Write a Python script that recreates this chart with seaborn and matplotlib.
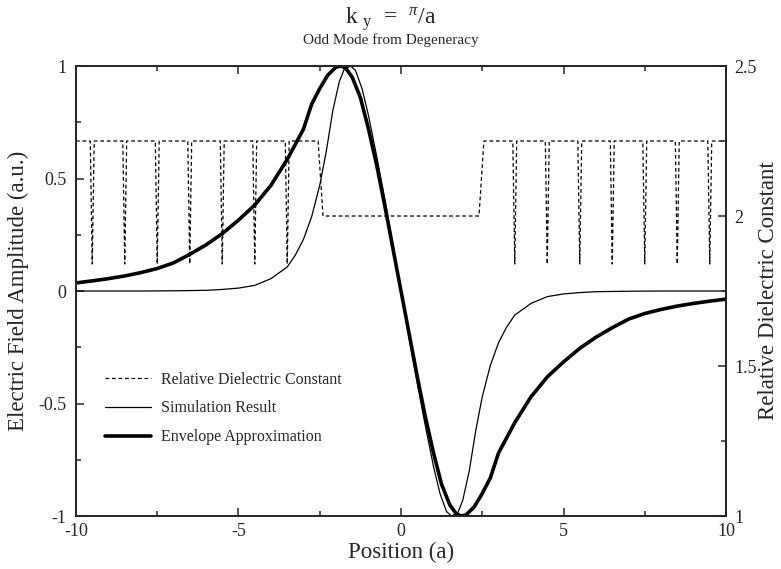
import matplotlib
matplotlib.use("Agg")
import matplotlib.pyplot as plt
import seaborn as sns
from matplotlib.lines import Line2D
from matplotlib.ticker import MultipleLocator

# ---- data ----
eps_x = [-10, -9.56, -9.5, -9.44, -8.56, -8.5, -8.44, -7.56, -7.5, -7.44,
         -6.56, -6.5, -6.44, -5.56, -5.5, -5.44, -4.56, -4.5, -4.44,
         -3.56, -3.5, -3.44, -2.55, -2.4, 2.4, 2.55,
         3.44, 3.5, 3.56, 4.44, 4.5, 4.56, 5.44, 5.5, 5.56, 6.44, 6.5, 6.56,
         7.44, 7.5, 7.56, 8.44, 8.5, 8.56, 9.44, 9.5, 9.56, 10]
eps_v = [2.25, 2.25, 1.84, 2.25, 2.25, 1.84, 2.25, 2.25, 1.84, 2.25,
         2.25, 1.84, 2.25, 2.25, 1.84, 2.25, 2.25, 1.84, 2.25,
         2.25, 1.84, 2.25, 2.25, 2.0, 2.0, 2.25,
         2.25, 1.84, 2.25, 2.25, 1.84, 2.25, 2.25, 1.84, 2.25, 2.25, 1.84, 2.25,
         2.25, 1.84, 2.25, 2.25, 1.84, 2.25, 2.25, 1.84, 2.25, 2.25]

sim_x = [-10, -9, -8, -7, -6, -5.5, -5, -4.5, -4, -3.5, -3.25, -3.0, -2.75, -2.5,
         -2.3, -2.1, -1.9, -1.75, -1.55, -1.4, -1.2, -1.0, -0.75, -0.5, -0.25, 0,
         0.25, 0.5, 0.75, 1.0, 1.2, 1.4, 1.55, 1.75, 1.9, 2.1, 2.3, 2.5, 2.75,
         3.0, 3.25, 3.5, 4, 4.5, 5, 5.5, 6, 7, 8, 9, 10]
sim_y = [0, 0, 0, 0.001, 0.003, 0.007, 0.013, 0.025, 0.055, 0.107, 0.16, 0.23, 0.33, 0.47,
         0.62, 0.80, 0.93, 0.985, 1.0, 0.98, 0.90, 0.78, 0.60, 0.41, 0.21, 0,
         -0.21, -0.41, -0.60, -0.78, -0.90, -0.98, -1.0, -0.985, -0.93, -0.80, -0.62, -0.47, -0.33,
         -0.23, -0.16, -0.107, -0.055, -0.025, -0.013, -0.007, -0.003, -0.001, 0, 0, 0]

env_x = [-10, -9.5, -9, -8.5, -8, -7.5, -7, -6.5, -6, -5.5, -5, -4.5, -4, -3.5, -3,
         -2.75, -2.5, -2.25, -2.0, -1.85, -1.7, -1.5, -1.25, -1.0, -0.75, -0.5, -0.25, 0,
         0.25, 0.5, 0.75, 1.0, 1.25, 1.5, 1.7, 1.85, 2.0, 2.25, 2.5, 2.75,
         3, 3.5, 4, 4.5, 5, 5.5, 6, 6.5, 7, 7.5, 8, 8.5, 9, 9.5, 10]
env_y = [0.036, 0.045, 0.055, 0.067, 0.082, 0.10, 0.125, 0.163, 0.205, 0.255, 0.315, 0.382, 0.47, 0.585, 0.72,
         0.83, 0.90, 0.96, 0.995, 1.0, 0.99, 0.95, 0.86, 0.72, 0.56, 0.38, 0.19, 0,
         -0.19, -0.38, -0.56, -0.72, -0.86, -0.95, -0.99, -1.0, -0.995, -0.96, -0.90, -0.83,
         -0.72, -0.585, -0.47, -0.382, -0.315, -0.255, -0.205, -0.163, -0.125, -0.10, -0.082, -0.067, -0.055, -0.045, -0.036]

legend_labels = ["Relative Dielectric Constant", "Simulation Result", "Envelope Approximation"]

# ---- style ----
sns.set_style("ticks")
plt.rcParams["font.family"] = ["Liberation Serif", "DejaVu Serif"]
plt.rcParams["mathtext.fontset"] = "custom"
plt.rcParams["mathtext.rm"] = "Liberation Serif"
plt.rcParams["mathtext.it"] = "Liberation Serif:italic"

fig = plt.figure(figsize=(7.81, 5.69), dpi=100)
ax = fig.add_axes([0.0973, 0.0931, 0.8323, 0.7909])
ax2 = ax.twinx()

dash = (0, (3.0, 2.2))
sns.lineplot(x=eps_x, y=eps_v, ax=ax2, color="black", lw=0.9, sort=False,
             estimator=None, linestyle=dash)
sns.lineplot(x=sim_x, y=sim_y, ax=ax, color="black", lw=0.9, sort=False, estimator=None)
sns.lineplot(x=env_x, y=env_y, ax=ax, color="black", lw=2.6, sort=False, estimator=None)

ax.set_xlim(-10, 10)
ax.set_ylim(-1, 1)
ax2.set_ylim(1, 2.5)

ax.xaxis.set_minor_locator(MultipleLocator(2.5))
ax.yaxis.set_minor_locator(MultipleLocator(0.25))
ax2.yaxis.set_minor_locator(MultipleLocator(0.25))

ax.set_xticks([-10, -5, 0, 5, 10])
ax.set_xticklabels(["-10", "-5", "0", "5", "10"])
ax.set_yticks([-1, -0.5, 0, 0.5, 1])
ax.set_yticklabels(["-1", "-0.5", "0", "0.5", "1"])
ax2.set_yticks([1, 1.5, 2, 2.5])
ax2.set_yticklabels(["1", "1.5", "2", "2.5"])

for a in (ax, ax2):
    for s in a.spines.values():
        s.set_linewidth(1.3)
        s.set_visible(True)
ax.tick_params(axis="both", which="major", direction="in", length=6, width=1.1,
               labelsize=13, top=True, pad=5)
ax.tick_params(axis="y", which="major", pad=7)
ax.tick_params(axis="both", which="minor", direction="in", length=3.5, width=1.1, top=True)
ax.tick_params(axis="y", which="both", right=False)
ax2.tick_params(axis="y", which="major", direction="in", length=6, width=1.1, labelsize=13, pad=6)
ax2.tick_params(axis="y", which="minor", direction="in", length=3.5, width=1.1)

ax.set_xlabel("Position (a)", fontsize=16.5)
ax.xaxis.set_label_coords(0.5, -0.08)
ax.xaxis.label.set_va("center")
ax.set_ylabel("Electric Field Amplitude (a.u.)", fontsize=16.5)
ax.yaxis.set_label_coords(-0.089, 0.5)
ax.yaxis.label.set_va("center")
ax2.set_ylabel("Relative Dielectric Constant", fontsize=16.5)
ax2.yaxis.set_label_coords(1.0646, 0.5)
ax2.yaxis.label.set_va("center")

fig.text(0.5, 0.966, r"k $_{\mathrm{y}}$  =  $^{\pi}$/a", ha="center", va="center", fontsize=17)
fig.text(0.5, 0.929, "Odd Mode from Degeneracy", ha="center", va="center", fontsize=11)

handles = [Line2D([], [], color="black", lw=0.9, linestyle=dash),
           Line2D([], [], color="black", lw=0.9),
           Line2D([], [], color="black", lw=2.6)]
ax.legend(handles, legend_labels, loc="upper left", bbox_to_anchor=(0.035, 0.335),
          frameon=False, fontsize=11.5, handlelength=2.9, handletextpad=0.6,
          labelspacing=0.8, borderaxespad=0)

fig.savefig("out.png", dpi=100)
